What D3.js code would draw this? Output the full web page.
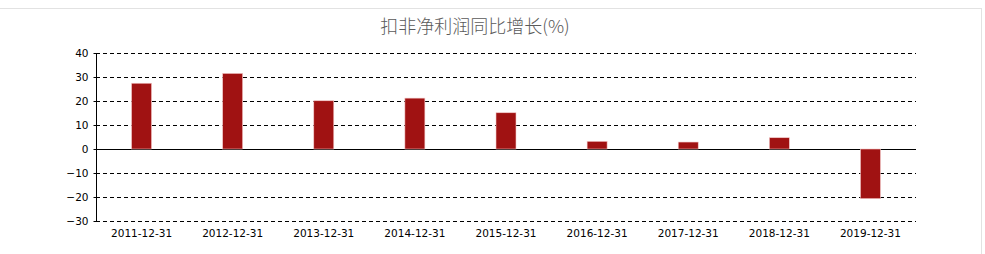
<!DOCTYPE html>
<html>
<head>
<meta charset="utf-8">
<script src="https://cdn.jsdelivr.net/npm/d3@7"></script>
<style>
  body { margin: 0; background: #fff; }
</style>
</head>
<body>
<div id="chart"></div>
<script>
// data
const years = ["2011-12-31", "2012-12-31", "2013-12-31", "2014-12-31", "2015-12-31",
               "2016-12-31", "2017-12-31", "2018-12-31", "2019-12-31"];
const growth = [27.4, 31.5, 20.1, 21.2, 15.1, 3.2, 2.9, 4.7, -20.7];
const yTicks = [40, 30, 20, 10, 0, -10, -20, -30];

const W = 985, H = 254;
const margin = {top: 53, right: 69, bottom: 33, left: 96};
const width = W - margin.left - margin.right,
      height = H - margin.top - margin.bottom;

const svg = d3.select("#chart")
  .append("svg")
  .attr("width", W)
  .attr("height", H);

// light frame round the chart
svg.append("rect")
  .attr("x", -2).attr("y", 8.5)
  .attr("width", 983.5).attr("height", 260)
  .attr("fill", "none")
  .attr("stroke", "#e2e2e2");

svg.append("text")
  .attr("x", 475).attr("y", 33)
  .attr("text-anchor", "middle")
  .style("font-family", "'Noto Sans CJK SC'")
  .style("font-size", "18px")
  .style("font-weight", 300)
  .style("fill", "#5a5a5a")
  .text("扣非净利润同比增长(%)");

const g = svg.append("g")
  .attr("transform", `translate(${margin.left},${margin.top})`);

const x = d3.scaleBand()
  .domain(years)
  .range([0, width]);

const y = d3.scaleLinear()
  .domain([-30, 40])
  .range([height, 0]);

// grid lines, zero is solid
g.selectAll(".grid")
  .data(yTicks)
  .join("line")
  .attr("x1", 0).attr("x2", width)
  .attr("y1", d => Math.round(y(d)) + 0.5)
  .attr("y2", d => Math.round(y(d)) + 0.5)
  .attr("stroke", "#000")
  .attr("stroke-width", 1)
  .attr("stroke-dasharray", d => d === 0 ? null : "4,3");

// bars
g.selectAll(".bar")
  .data(growth)
  .join("rect")
  .attr("x", (d, i) => x(years[i]) + x.bandwidth() / 2 - 10)
  .attr("width", 20)
  .attr("y", d => y(Math.max(0, d)))
  .attr("height", d => Math.abs(y(d) - y(0)))
  .attr("fill", "#a01212")
  .attr("stroke", "#f4c8c8")
  .attr("stroke-width", 0.6);

// y axis
const yAxis = g.append("g")
  .attr("transform", "translate(0.5,0)")
  .call(d3.axisLeft(y).tickValues(yTicks).tickSize(3).tickPadding(5));
yAxis.select(".domain").attr("d", `M0,${Math.round(y(40))}V${Math.round(y(-30)) + 1}`);

// x axis labels
const xAxis = g.append("g")
  .attr("transform", `translate(0,${height})`)
  .call(d3.axisBottom(x).tickSize(0).tickPadding(9));
xAxis.select(".domain").remove();

svg.selectAll(".tick text")
  .style("font-family", "'DejaVu Sans'")
  .style("font-size", "10.5px")
  .style("fill", "#000");
</script>
</body>
</html>
